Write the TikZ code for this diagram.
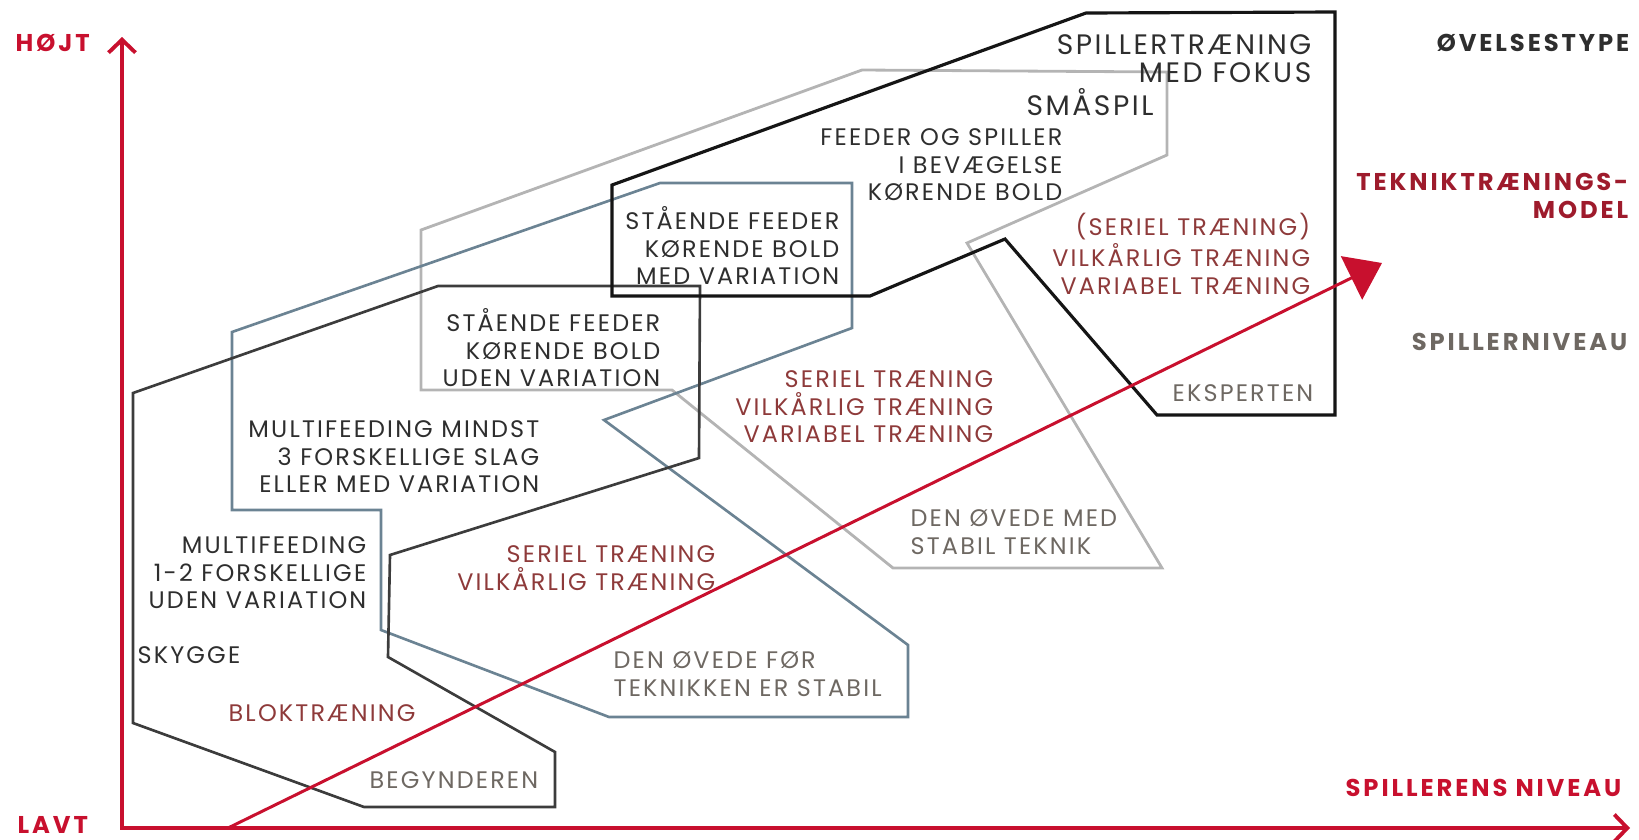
\documentclass[tikz,border=0pt]{standalone}
\usepackage{fontspec}
\setmainfont{Poppins}[LetterSpace=9]
\newfontfamily\overskriftfont{Poppins}[LetterSpace=12]
\usetikzlibrary{arrows.meta}
\definecolor{akse}{HTML}{C8102E}
\definecolor{modelrod}{HTML}{9E1B2C}
\definecolor{traening}{HTML}{8E3A3A}
\definecolor{niveautxt}{HTML}{6E6862}
\definecolor{oevtxt}{HTML}{2E2E2E}
\definecolor{linjesort}{HTML}{151515}
\definecolor{linjemoerk}{HTML}{3C3C3C}
\definecolor{linjeblaa}{HTML}{6B8393}
\definecolor{linjelys}{HTML}{B4B4B4}
\begin{document}
\begin{tikzpicture}[x=0.01cm,y=-0.01cm,line join=miter,
    oev/.style={font=\fontsize{6.8}{7.8}\selectfont,text=oevtxt,inner sep=0pt},
    oevstor/.style={font=\fontsize{8}{8}\selectfont,text=oevtxt,inner sep=0pt},
    model/.style={font=\fontsize{6.8}{7.8}\selectfont,text=traening,inner sep=0pt},
    niveau/.style={font=\fontsize{6.8}{7.8}\selectfont,text=niveautxt,inner sep=0pt},
    overskrift/.style={font=\overskriftfont\fontsize{6.9}{8}\selectfont\bfseries,inner sep=0pt}]
    \useasboundingbox (0,0) rectangle (1639,839);
    \draw[linjelys,line width=0.8pt] (421,230)--(862,70)--(1167,72)--(1167,155)--(967,243)--(1162,568)--(893,568)--(672,390)--(421,390)--cycle;
    \draw[linjeblaa,line width=0.75pt] (232,332)--(660,183)--(852,183)--(852,328)--(604,420)--(908,645)--(908,717)--(609,717)--(381,630)--(381,510)--(232,510)--cycle;
    \draw[linjemoerk,line width=0.75pt] (133,393)--(438,286)--(700,286)--(699,458)--(390,555)--(388,657)--(555,752)--(555,807)--(364,807)--(133,723)--cycle;
    \draw[linjesort,line width=0.9pt] (612,185)--(1086,13)--(1335,12)--(1335,415)--(1157,415)--(1005,239)--(870,296)--(612,296)--cycle;
    \coordinate (top) at (122,37);
    \coordinate (origo) at (122,828);
    \coordinate (hoejre) at (1630,828);
    \coordinate (start) at (228,828);
    \coordinate (spids) at (1382,263);
    \draw[akse,line width=1.1pt,{Straight Barb[length=0.13cm,width=0.27cm]}-{Straight Barb[length=0.13cm,width=0.27cm]}] (top)--(origo)--(hoejre);
    \draw[akse,line width=0.85pt,-{Triangle[length=0.34cm,width=0.48cm]}] (start)--(spids);
    \path
    (15,43) node[overskrift,text=akse,anchor=west] (hoejt) {HØJT}
    (17,825) node[overskrift,text=akse,anchor=west] (lavt) {LAVT}
    (1622,788) node[overskrift,text=akse,anchor=east] (spillerensniveau) {SPILLERENS NIVEAU}
    (1630,43) node[overskrift,text=oevtxt,anchor=east] (oevelsestype) {ØVELSESTYPE}
    (1629,196) node[overskrift,text=modelrod,anchor=east,align=right] (teknikmodel) {TEKNIKTRÆNINGS-\\MODEL}
    (1628,342) node[overskrift,text=niveautxt,anchor=east] (spillerniveau) {SPILLERNIVEAU}
    ;
    \path
    (1312,59) node[oevstor,anchor=east,align=right] (fokus) {SPILLERTRÆNING\\MED FOKUS}
    (1026,102) node[oevstor,anchor=west] (smaaspil) {SMÅSPIL}
    (1063,165) node[oev,anchor=east,align=right] (bevaegelse) {FEEDER OG SPILLER\\I BEVÆGELSE\\KØRENDE BOLD}
    (840,246) node[oev,anchor=east,align=right] (medvariation) {STÅENDE FEEDER\\KØRENDE BOLD\\MED VARIATION}
    (661,348) node[oev,anchor=east,align=right] (udenvariation) {STÅENDE FEEDER\\KØRENDE BOLD\\UDEN VARIATION}
    (540,457) node[oev,anchor=east,align=right] (mindst) {MULTIFEEDING MINDST\\3 FORSKELLIGE SLAG\\ELLER MED VARIATION}
    (367,573) node[oev,anchor=east,align=right] (multifeeding) {MULTIFEEDING\\1-2 FORSKELLIGE\\UDEN VARIATION}
    (137,655) node[oev,anchor=west] (skygge) {SKYGGE}
    ;
    \path
    (228,713) node[model,anchor=west] (bloktraening) {BLOKTRÆNING}
    (716,568) node[model,anchor=east,align=right] (seriel) {SERIEL TRÆNING\\VILKÅRLIG TRÆNING}
    (994,407) node[model,anchor=east,align=right] (vilkaarlig) {SERIEL TRÆNING\\VILKÅRLIG TRÆNING\\VARIABEL TRÆNING}
    (1311,254) node[model,anchor=east,align=right] (variabel) {(SERIEL TRÆNING)\\VILKÅRLIG TRÆNING\\VARIABEL TRÆNING}
    (369,780) node[niveau,anchor=west] (begynderen) {BEGYNDEREN}
    (613,674) node[niveau,anchor=west,align=left] (foerstabil) {DEN ØVEDE FØR\\TEKNIKKEN ER STABIL}
    (910,532) node[niveau,anchor=west,align=left] (medstabil) {DEN ØVEDE MED\\STABIL TEKNIK}
    (1172,393) node[niveau,anchor=west] (eksperten) {EKSPERTEN}
    ;
\end{tikzpicture}
\end{document}
